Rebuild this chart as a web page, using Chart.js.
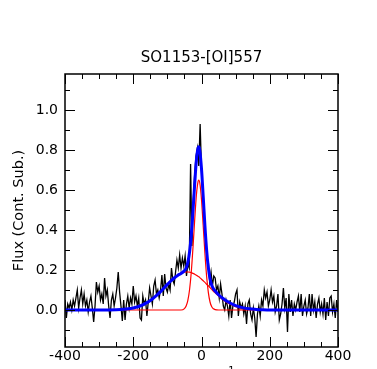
<!DOCTYPE html>
<html>
<head>
<meta charset="utf-8">
<script src="https://cdn.jsdelivr.net/npm/chart.js@4.4.1/dist/chart.umd.min.js"></script>
<style>
  html, body { margin: 0; padding: 0; background: #fff; width: 377px; height: 369px; overflow: hidden; }
  canvas { display: block; }
</style>
</head>
<body>
<canvas id="line-chart" width="377" height="392"></canvas>
<script>
// observed spectrum, one channel every 4 km/s from -400 to 400
const specStart = -400;
const specStep = 4;
const specFlux = [
  0.05, -0.04, 0.03, 0.01, 0.04, 0.00, 0.05, 0.02, 0.06, 0.10,
  0.01, 0.06, 0.10, 0.03, 0.08, 0.02, 0.05, -0.01, 0.04, 0.07,
  0.01, -0.06, 0.02, 0.14, 0.09, 0.12, 0.05, 0.08, 0.03, 0.16,
  0.07, 0.10, 0.02, -0.04, 0.05, 0.08, 0.02, 0.06, 0.11, 0.19,
  0.09, 0.02, -0.055, 0.05, -0.05, 0.03, 0.07, 0.01, 0.06, 0.03,
  0.12, 0.04, 0.07, 0.02, 0.06, -0.04, -0.05, 0.07, 0.03, 0.05,
  -0.03, 0.04, 0.11, 0.07, 0.03, 0.12, 0.15, 0.08, 0.10, 0.06,
  0.10, 0.175, 0.07, 0.18, 0.11, 0.09, 0.13, 0.10, 0.21, 0.15,
  0.13, 0.19, 0.25, 0.21, 0.275, 0.21, 0.26, 0.22, 0.27, 0.17,
  0.23, 0.21, 0.73, 0.32, 0.55, 0.68, 0.77, 0.81, 0.72, 0.93,
  0.70, 0.58, 0.45, 0.36, 0.26, 0.24, 0.14, 0.19, 0.12, 0.17,
  0.16, 0.10, 0.12, 0.06, 0.13, 0.08, 0.02, 0.00, 0.05, 0.02,
  -0.03, 0.05, -0.04, 0.02, 0.04, 0.08, 0.10, -0.03, 0.04, 0.01,
  0.03, -0.02, 0.02, -0.07, 0.03, 0.05, -0.02, -0.05, 0.01, -0.04,
  -0.135, -0.02, 0.02, -0.03, 0.05, 0.02, 0.10, 0.06, 0.09, 0.02,
  0.05, 0.10, 0.04, 0.07, -0.01, 0.02, 0.08, -0.05, -0.02, 0.03,
  0.11, 0.01, 0.06, -0.11, 0.08, -0.01, 0.05, -0.03, 0.03, 0.00,
  0.04, 0.07, -0.01, 0.08, -0.03, 0.02, 0.05, -0.02, 0.01, 0.08,
  -0.03, 0.08, 0.00, 0.04, -0.04, 0.03, 0.06, -0.01, 0.03, -0.02,
  0.06, -0.05, 0.04, -0.03, 0.06, 0.07, -0.01, 0.03, -0.04, 0.05,
  -0.01
];

// fitted curves
const fitVel = [-400, -300, -250, -220, -200, -180, -160, -150, -140, -130,
  -120, -110, -100, -90, -80, -70, -60, -50, -45, -40,
  -35, -30, -25, -20, -15, -10, -8, -5, 0, 5,
  10, 15, 20, 25, 30, 35, 40, 50, 60, 70,
  80, 90, 100, 120, 140, 160, 180, 200, 300, 400];
const fitTotal = [0, 0, 0.001, 0.005, 0.010, 0.020, 0.037, 0.048, 0.061, 0.076,
  0.092, 0.110, 0.128, 0.145, 0.160, 0.173, 0.183, 0.196, 0.210, 0.238,
  0.290, 0.376, 0.494, 0.629, 0.748, 0.811, 0.816, 0.797, 0.706, 0.568,
  0.422, 0.300, 0.212, 0.156, 0.124, 0.106, 0.095, 0.076, 0.061, 0.049,
  0.039, 0.030, 0.022, 0.012, 0.006, 0.003, 0.001, 0, 0, 0];
const fitBroad = [0, 0, 0.001, 0.0045, 0.010, 0.020, 0.037, 0.048, 0.061, 0.076,
  0.092, 0.110, 0.128, 0.145, 0.160, 0.173, 0.183, 0.189, 0.190, 0.190,
  0.189, 0.187, 0.183, 0.179, 0.174, 0.168, 0.166, 0.162, 0.154, 0.146,
  0.138, 0.129, 0.121, 0.112, 0.103, 0.094, 0.086, 0.070, 0.055, 0.043,
  0.033, 0.024, 0.017, 0.0085, 0.004, 0.0015, 0.0005, 0, 0, 0];
const fitNarrow = [0, 0, 0, 0, 0, 0, 0, 0, 0, 0,
  0, 0, 0, 0, 0, 0, 0, 0.007, 0.020, 0.048,
  0.101, 0.189, 0.311, 0.450, 0.574, 0.643, 0.650, 0.635, 0.552, 0.422,
  0.284, 0.169, 0.088, 0.040, 0.016, 0.006, 0.002, 0, 0, 0,
  0, 0, 0, 0, 0, 0, 0, 0, 0, 0];

const xTicks = [-400, -200, 0, 200, 400];
const xMinor = [-350, -300, -250, -150, -100, -50, 50, 100, 150, 250, 300, 350];
const yTicks = [0.0, 0.2, 0.4, 0.6, 0.8, 1.0];
const yMinor = [-0.1, 0.1, 0.3, 0.5, 0.7, 0.9, 1.1];
const chartTitle = "SO1153-[OI]557";

const FONT = "'DejaVu Sans', 'Liberation Sans', sans-serif";

const toPoints = (xs, ys) => xs.map((v, i) => ({ x: v, y: ys[i] }));
const specPoints = specFlux.map((f, i) => ({ x: specStart + i * specStep, y: f }));

// box + inward ticks on all four sides, title over the axes, clipped x label
const frameTicks = {
  id: "frameTicks",
  afterDatasetsDraw(chart) {
    const { ctx, chartArea: a, scales: { x, y } } = chart;
    ctx.save();
    ctx.strokeStyle = "#000";
    ctx.lineWidth = 1;
    const drawX = (vals, len) => {
      vals.forEach(v => {
        const px = Math.round(x.getPixelForValue(v)) + 0.5;
        ctx.beginPath();
        ctx.moveTo(px, a.bottom); ctx.lineTo(px, a.bottom - len);
        ctx.moveTo(px, a.top); ctx.lineTo(px, a.top + len);
        ctx.stroke();
      });
    };
    const drawY = (vals, len) => {
      vals.forEach(v => {
        const py = Math.round(y.getPixelForValue(v)) + 0.5;
        ctx.beginPath();
        ctx.moveTo(a.left, py); ctx.lineTo(a.left + len, py);
        ctx.moveTo(a.right, py); ctx.lineTo(a.right - len, py);
        ctx.stroke();
      });
    };
    drawX(xTicks, 10);
    drawX(xMinor, 5);
    drawY(yTicks, 10);
    drawY(yMinor, 5);
    ctx.lineWidth = 1.5;
    ctx.strokeRect(a.left, a.top, a.right - a.left, a.bottom - a.top);

    const cx = (a.left + a.right) / 2;
    ctx.fillStyle = "#000";

    // title centred over the axes box
    ctx.font = "15px " + FONT;
    ctx.textAlign = "center";
    ctx.textBaseline = "middle";
    ctx.fillText(chartTitle, cx, 58);

    // x label: only the superscript peeks into the window
    ctx.font = "14px " + FONT;
    ctx.textBaseline = "alphabetic";
    ctx.textAlign = "left";
    const base = "v (km s";
    const wBase = ctx.measureText(base).width;
    ctx.font = "10px " + FONT;
    const sup = "\u22121";
    const wSup = ctx.measureText(sup).width;
    const x0 = cx - (wBase + wSup) / 2;
    ctx.font = "14px " + FONT;
    ctx.fillText(base, x0, 382);
    ctx.font = "10px " + FONT;
    ctx.fillText(sup, x0 + wBase, 374);
    ctx.restore();
  }
};

const ctx = document.getElementById("line-chart").getContext("2d");

new Chart(ctx, {
  type: "line",
  data: {
    datasets: [
      {
        label: "Total fit",
        data: toPoints(fitVel, fitTotal),
        borderColor: "#0000ff",
        borderWidth: 3,
        cubicInterpolationMode: "monotone",
        pointRadius: 0,
      },
      {
        label: "Narrow",
        data: toPoints(fitVel, fitNarrow),
        borderColor: "#ff0000",
        borderWidth: 1.2,
        cubicInterpolationMode: "monotone",
        pointRadius: 0,
      },
      {
        label: "Broad",
        data: toPoints(fitVel, fitBroad),
        borderColor: "#ff0000",
        borderWidth: 1.2,
        cubicInterpolationMode: "monotone",
        pointRadius: 0,
      },
      {
        label: "Spectrum",
        data: specPoints,
        borderColor: "#000000",
        borderWidth: 1.3,
        tension: 0,
        pointRadius: 0,
      },
    ],
  },
  options: {
    responsive: false,
    animation: false,
    events: [],
    layout: { padding: { left: 0, right: 39, top: 74, bottom: 0 } },
    plugins: {
      legend: { display: false },
      tooltip: { enabled: false },
      title: { display: false },
    },
    scales: {
      x: {
        type: "linear",
        min: -400,
        max: 400,
        grid: { display: false, drawTicks: false },
        border: { display: false },
        afterBuildTicks: (scale) => { scale.ticks = xTicks.map(v => ({ value: v })); },
        afterFit: (scale) => { scale.height = 45; },
        ticks: {
          color: "#000",
          font: { family: FONT, size: 14 },
          padding: 1,
          maxRotation: 0,
          callback: (v) => String(v),
        },
      },
      y: {
        type: "linear",
        min: -0.185,
        max: 1.18,
        grid: { display: false, drawTicks: false },
        border: { display: false },
        afterBuildTicks: (scale) => { scale.ticks = yTicks.map(v => ({ value: v })); },
        afterFit: (scale) => { scale.width = 65; },
        ticks: {
          color: "#000",
          font: { family: FONT, size: 14 },
          padding: 7,
          callback: (v) => Number(v).toFixed(1),
        },
        title: {
          display: true,
          text: "Flux (Cont. Sub.)",
          color: "#000",
          font: { family: FONT, size: 14.5 },
          padding: { top: 11, bottom: 0 },
        },
      },
    },
  },
  plugins: [frameTicks],
});
</script>
</body>
</html>
